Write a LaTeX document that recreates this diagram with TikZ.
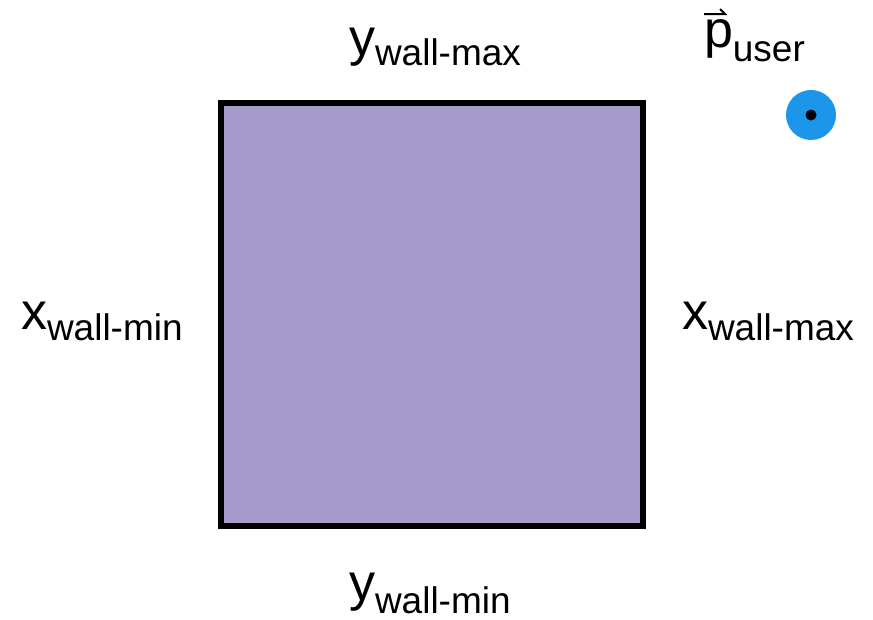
\documentclass[tikz,border=0pt]{standalone}
\usepackage{fontspec}
\setmainfont{Liberation Sans}
\definecolor{wallfill}{RGB}{165,154,202}
\definecolor{userblue}{RGB}{28,150,235}
\newcommand{\mylbl}[3]{{\fontsize{52}{52}\selectfont #1}\raisebox{-#3pt}[\height][0pt]{\fontsize{37}{37}\selectfont #2}}
\begin{document}
\begin{tikzpicture}[x=1pt,y=-1pt,
  lbl/.style={anchor=base west,inner sep=0pt,outer sep=0pt}]
\useasboundingbox (0,0) rectangle (873,619);
\node[draw=black,line width=6pt,fill=wallfill,minimum width=422pt,minimum height=423pt,inner sep=0pt] (wall) at (431.5,314.5) {};
\node[lbl] (ymax) at (349,55) {\mylbl{y}{wall-max}{10}};
\node[lbl] (ymin) at (349,600) {\mylbl{y}{wall-min}{13}};
\node[lbl] (xmin) at (21,329) {\mylbl{x}{wall-min}{11}};
\node[lbl] (xmax) at (682,329) {\mylbl{x}{wall-max}{11}};
\node[lbl] (puser) at (704,47) {\mylbl{p}{user}{14}};
\draw[line width=2pt] (704,14) -- (725,14) -- (720,9);
\node[circle,fill=userblue,minimum size=50pt,inner sep=0pt] (user) at (811,115) {};
\node[circle,fill=black,minimum size=11pt,inner sep=0pt] (userdot) at (user) {};
\end{tikzpicture}
\end{document}
